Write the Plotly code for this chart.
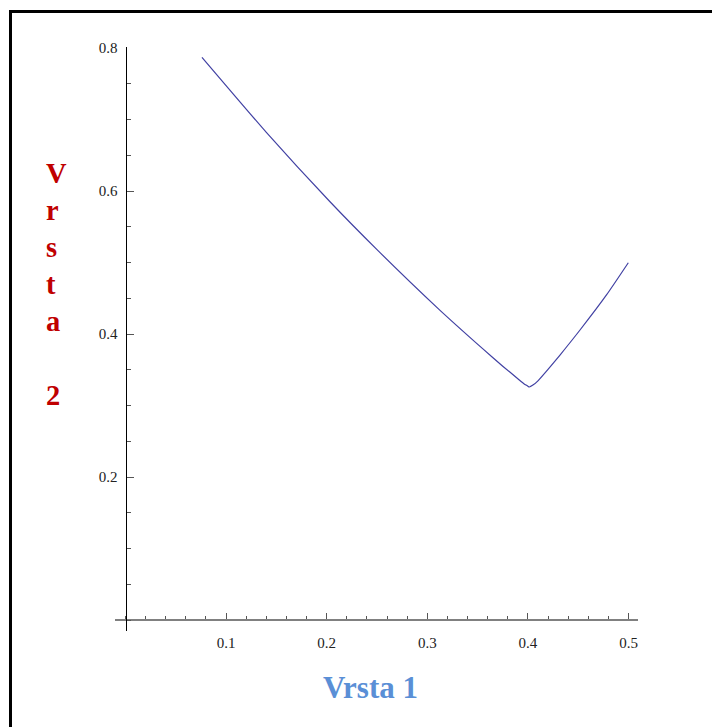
import plotly.graph_objects as go

# Curve samples (Vrsta 1 vs Vrsta 2)
vrsta1 = [0.076, 0.14, 0.2033, 0.25, 0.3116, 0.355, 0.375, 0.39, 0.396, 0.3995,
          0.4014, 0.405, 0.41, 0.42, 0.4319, 0.4518, 0.4783, 0.4998]
vrsta2 = [0.787, 0.682, 0.585, 0.518, 0.4345, 0.3795, 0.355, 0.3375, 0.3305, 0.3275,
          0.3259, 0.3285, 0.3345, 0.3505, 0.3706, 0.4056, 0.455, 0.4997]

x_ticks = [0.1, 0.2, 0.3, 0.4, 0.5]
x_tick_labels = ["0.1", "0.2", "0.3", "0.4", "0.5"]
y_ticks = [0.2, 0.4, 0.6, 0.8]
y_tick_labels = ["0.2", "0.4", "0.6", "0.8"]

W, H = 712, 727
L, R, T, B = 115, 74, 47, 96
plot_w = W - L - R
plot_h = H - T - B

x_range = [-0.01044, 0.50944]
y_range = [-0.01538, 0.8014]

def px_x(p):
    return (p - L) / plot_w

def px_y(p):
    return (H - B - p) / plot_h

tick_font = dict(family="Liberation Serif", size=15, color="#222")

fig = go.Figure()
fig.add_trace(go.Scatter(
    x=vrsta1, y=vrsta2, mode="lines",
    line=dict(color="#4141a3", width=1.2, shape="spline", smoothing=0.5),
    hoverinfo="skip", showlegend=False,
))

fig.update_layout(
    width=W, height=H,
    margin=dict(l=L, r=R, t=T, b=B),
    paper_bgcolor="white", plot_bgcolor="white",
    xaxis=dict(
        range=x_range, anchor="free",
        position=(H - B - 620) / plot_h,
        tickmode="array", tickvals=x_ticks, ticktext=x_tick_labels,
        ticks="inside", ticklen=6, tickwidth=1, tickcolor="#555",
        minor=dict(ticks="inside", dtick=0.02, tick0=0, ticklen=3,
                   tickwidth=1, tickcolor="#555", showgrid=False),
        showline=True, linecolor="#808080", linewidth=1.5,
        showgrid=False, zeroline=False, tickfont=tick_font,
        ticklabelstandoff=9,
    ),
    yaxis=dict(
        range=y_range, anchor="free",
        position=(125.5 - L) / plot_w,
        tickmode="array", tickvals=y_ticks, ticktext=y_tick_labels,
        ticks="inside", ticklen=7, tickwidth=1, tickcolor="#555",
        minor=dict(ticks="inside", dtick=0.05, tick0=0, ticklen=4,
                   tickwidth=1, tickcolor="#555", showgrid=False),
        showline=True, linecolor="#000", linewidth=1.2,
        showgrid=False, zeroline=False, tickfont=tick_font,
        ticklabelstandoff=5,
    ),
    annotations=[
        dict(text="Vrsta 1", xref="paper", yref="paper",
             x=px_x(370), y=px_y(687), xanchor="center", yanchor="middle",
             showarrow=False,
             font=dict(family="Liberation Serif", size=31, color="#5a8fd6",
                       weight="bold")),
        dict(text="V<br>r<br>s<br>t<br>a<br> <br>2", xref="paper", yref="paper",
             x=px_x(44), y=px_y(284), xanchor="left", yanchor="middle",
             align="left", showarrow=False,
             font=dict(family="Liberation Serif", size=28.5, color="#c00000",
                       weight="bold")),
    ],
    shapes=[
        dict(type="line", xref="paper", yref="paper",
             x0=px_x(9), x1=px_x(720), y0=px_y(11.5), y1=px_y(11.5),
             line=dict(color="black", width=3)),
        dict(type="line", xref="paper", yref="paper",
             x0=px_x(10.5), x1=px_x(10.5), y0=px_y(10), y1=px_y(735),
             line=dict(color="black", width=3)),
    ],
)

fig.write_html("out.html")
